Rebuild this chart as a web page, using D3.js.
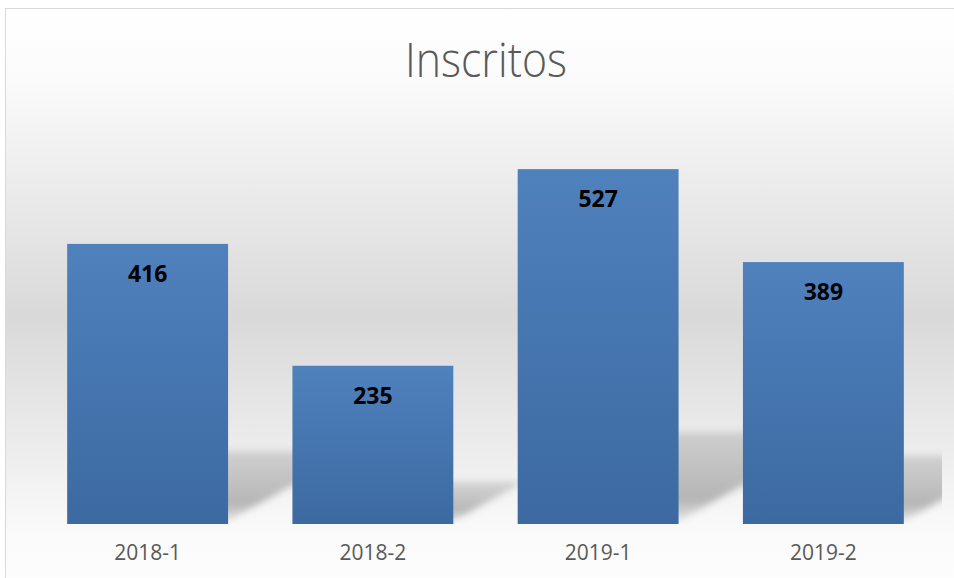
<!DOCTYPE html>
<html>
<head>
<meta charset="utf-8">
<script src="https://cdn.jsdelivr.net/npm/d3@7"></script>
<style>
  html, body { margin: 0; padding: 0; background: #ffffff; }
  svg { display: block; }
</style>
</head>
<body>
<div id="chart"></div>
<script>
const title = "Inscritos";
const categories = ["2018-1", "2018-2", "2019-1", "2019-2"];
const values = [416, 235, 527, 389];
const yDomain = [0, 600];

const W = 954, H = 578;
const svg = d3.select("#chart").append("svg").attr("width", W).attr("height", H);
const defs = svg.append("defs");

// chart background gradient
const bg = defs.append("linearGradient").attr("id", "bgGrad")
  .attr("gradientUnits", "userSpaceOnUse")
  .attr("x1", 0).attr("y1", 9).attr("x2", 0).attr("y2", 578);
bg.append("stop").attr("offset", "0%").attr("stop-color", "#ffffff");
bg.append("stop").attr("offset", "12%").attr("stop-color", "#fbfbfb");
bg.append("stop").attr("offset", "54%").attr("stop-color", "#d9d9d9");
bg.append("stop").attr("offset", "78%").attr("stop-color", "#ededed");
bg.append("stop").attr("offset", "92%").attr("stop-color", "#fafafa");
bg.append("stop").attr("offset", "100%").attr("stop-color", "#fdfdfd");

// bar gradient
const bgBar = defs.append("linearGradient").attr("id", "barGrad")
  .attr("x1", 0).attr("y1", 0).attr("x2", 0).attr("y2", 1);
bgBar.append("stop").attr("offset", "0%").attr("stop-color", "#4f81bd");
bgBar.append("stop").attr("offset", "100%").attr("stop-color", "#3c69a1");

// shadow gradient
const sg = defs.append("linearGradient").attr("id", "shadowGrad")
  .attr("x1", 0).attr("y1", 1).attr("x2", 0).attr("y2", 0);
sg.append("stop").attr("offset", "0%").attr("stop-color", "#000").attr("stop-opacity", 0.08);
sg.append("stop").attr("offset", "25%").attr("stop-color", "#000").attr("stop-opacity", 0.26);
sg.append("stop").attr("offset", "100%").attr("stop-color", "#000").attr("stop-opacity", 0.12);

defs.append("filter").attr("id", "blur").attr("x", "-20%").attr("y", "-20%")
  .attr("width", "140%").attr("height", "140%")
  .append("feGaussianBlur").attr("stdDeviation", 3.5);

// chart area
svg.append("rect").attr("x", 5.5).attr("y", 8.5).attr("width", 1000).attr("height", 700)
  .attr("fill", "url(#bgGrad)").attr("stroke", "#d9d9d9").attr("stroke-width", 1);

// plot area
const plot = { left: 35, right: 936, top: 120, bottom: 524 };

const x = d3.scaleBand().domain(categories)
  .range([plot.left, plot.right])
  .paddingInner(0.4 / 1.4).paddingOuter(0.2 / 1.4);
const y = d3.scaleLinear().domain(yDomain).range([plot.bottom, plot.top]);

defs.append("clipPath").attr("id", "plotClip").append("rect")
  .attr("x", plot.left).attr("y", plot.top)
  .attr("width", plot.right - plot.left + 6).attr("height", plot.bottom - plot.top);

const data = categories.map((c, i) => ({ c, v: values[i] }));

// perspective shadows
svg.append("g").attr("clip-path", "url(#plotClip)")
  .selectAll("polygon").data(data).join("polygon")
  .attr("points", d => {
    const x0 = x(d.c), x1 = x(d.c) + x.bandwidth();
    const h = y(0) - y(d.v);
    const base = y(0) - 3;
    const dx = 0.45 * h, dy = 0.25 * h;
    return [[x0, base], [x1, base], [x1 + dx, base - dy], [x0 + dx, base - dy]]
      .map(p => p.join(",")).join(" ");
  })
  .attr("fill", "url(#shadowGrad)")
  .attr("filter", "url(#blur)");

// bars
svg.append("g").selectAll("rect").data(data).join("rect")
  .attr("x", d => x(d.c))
  .attr("y", d => y(d.v))
  .attr("width", x.bandwidth())
  .attr("height", d => y(0) - y(d.v))
  .attr("fill", "url(#barGrad)");

// data labels
svg.append("g").selectAll("text").data(data).join("text")
  .attr("x", d => x(d.c) + x.bandwidth() / 2)
  .attr("y", d => y(d.v) + 38)
  .attr("text-anchor", "middle")
  .attr("font-family", "'Open Sans', 'Liberation Sans', sans-serif")
  .attr("font-weight", "bold")
  .attr("font-size", 23)
  .attr("fill", "#000000")
  .text(d => d.v);

// x axis
const xAxis = svg.append("g")
  .attr("transform", `translate(0,${plot.bottom})`)
  .call(d3.axisBottom(x).tickSize(0).tickPadding(21));
xAxis.select(".domain").remove();
xAxis.selectAll("text")
  .attr("font-family", "'Open Sans', 'Liberation Sans', sans-serif")
  .attr("font-size", 21)
  .attr("fill", "#595959");

// title
svg.append("text")
  .attr("x", 486).attr("y", 77)
  .attr("text-anchor", "middle")
  .attr("font-family", "'Open Sans', 'Liberation Sans', sans-serif")
  .attr("font-weight", 300)
  .attr("font-size", 48)
  .attr("fill", "#595959")
  .attr("textLength", 162)
  .attr("lengthAdjust", "spacingAndGlyphs")
  .text(title);
</script>
</body>
</html>
